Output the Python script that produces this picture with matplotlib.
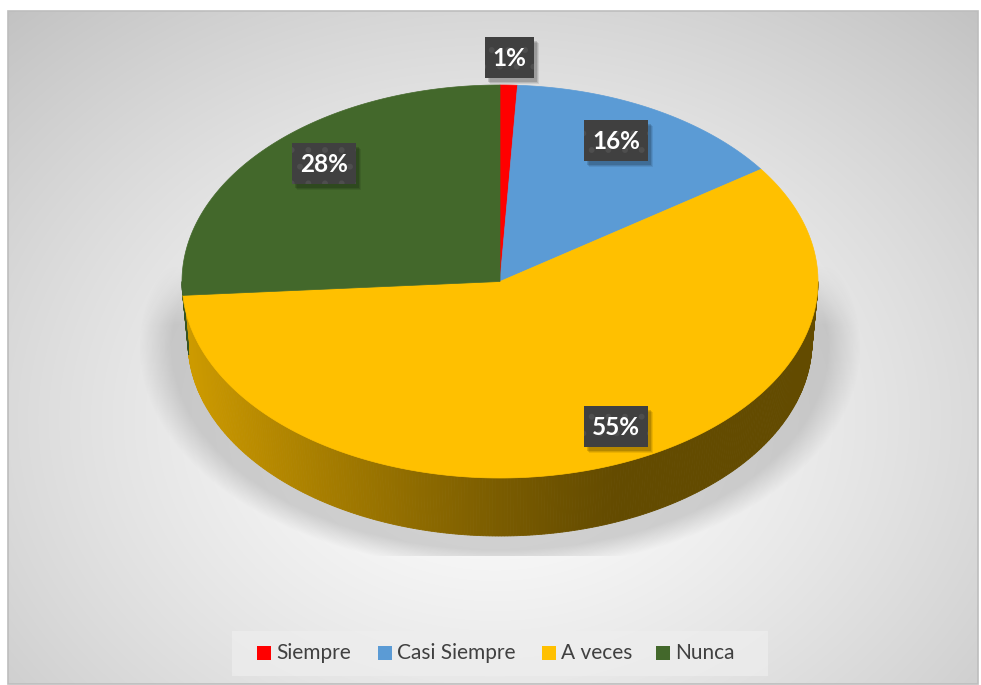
import numpy as np
import matplotlib.pyplot as plt
from matplotlib.patches import Polygon, Rectangle

# data
categories = ['Siempre', 'Casi Siempre', 'A veces', 'Nunca']
values = [1, 16, 55, 28]
colors = ['#FF0000', '#5B9BD5', '#FFC000', '#43682B']
pct_labels = ['1%', '16%', '55%', '28%']

W, H = 981, 685
plt.rcParams['font.family'] = ['Lato', 'DejaVu Sans']
fig = plt.figure(figsize=(W / 100, H / 100), dpi=100)
ax = fig.add_axes([0, 0, 1, 1])
ax.set_xlim(0, W)
ax.set_ylim(H, 0)
ax.axis('off')

# background: radial gray gradient inside the chart frame
x0, y0, x1, y1 = 8, 11, 978, 684
yy, xx = np.mgrid[y0:y1, x0:x1] + 0.5
d = np.hypot((xx - 495) / 560, (yy - 420) / 440) / 1.24
g = 1 - 0.23 * np.clip(d, 0, 1.1) ** 1.3
bg = np.dstack([g, g, g])
ax.imshow(bg, extent=(x0, x1, y1, y0), zorder=0, interpolation='bilinear')
ax.add_patch(Rectangle((x0, y0), x1 - x0, y1 - y0, fill=False,
                       edgecolor='#BDBDBD', lw=1.2, zorder=1))

# pie geometry (pixel space)
cx, cy, a, b, depth = 500, 281.5, 318, 196.5, 60
persp = 0.12


def tparam(theta):
    return theta - persp * np.sin(theta)


def top(t):
    return cx + a * np.sin(t), cy - b * np.cos(t)


def bot(t):
    return cx + (a - 6) * np.sin(t), cy + depth - (b - 2) * np.cos(t)


# soft shadow under the pie
sy, sx = np.mgrid[240:556, 140:870] + 0.5
r = np.hypot((sx - 500) / 328, (sy - 347) / 203)
s = np.clip(1 - (r - 1) / 0.1, 0, 1)
s *= np.clip((sy - 265) / 60, 0, 1)
shadow = np.zeros(sx.shape + (4,))
shadow[..., :3] = 0.55
shadow[..., 3] = 0.36 * s
ax.imshow(shadow, extent=(140, 870, 556, 240), zorder=2, interpolation='bilinear')

fracs = np.array(values, dtype=float) / sum(values)
edges = np.concatenate([[0], np.cumsum(fracs)]) * 2 * np.pi
t_edges = tparam(edges)


def side_factor(x):
    u = np.clip((620 - x) / 430, 0, 1)
    return 0.39 + 0.41 * u ** 1.2


# side walls (front half only, one continuous band)
t_side = np.linspace(np.pi / 2, 3 * np.pi / 2, 320)
for ta, tb in zip(t_side[:-1], t_side[1:]):
    i = min(np.searchsorted(t_edges, (ta + tb) / 2) - 1, len(colors) - 1)
    # tiny slivers at the very edge get the neighbouring front slice colour
    if t_edges[i + 1] - max(t_edges[i], np.pi / 2) < 0.12 and i > 0:
        i -= 1
    base = np.array(plt.matplotlib.colors.to_rgb(colors[i]))
    pa, pb = top(ta), top(tb)
    qa, qb = bot(ta), bot(tb)
    c = base * side_factor((pa[0] + pb[0]) / 2)
    ax.add_patch(Polygon([pa, pb, qb, qa], closed=True, facecolor=c,
                         edgecolor=c, lw=0.6, zorder=3))

# top face
for i, col in enumerate(colors):
    ts = np.linspace(t_edges[i], t_edges[i + 1], 200)
    pts = [(cx, cy)] + [top(t) for t in ts]
    ax.add_patch(Polygon(pts, closed=True, facecolor=col, edgecolor=col,
                         lw=0.5, zorder=4))

# data labels
plt.rcParams['hatch.linewidth'] = 1.8
label_pos = [(509.5, 57.5), (616, 140), (616, 426), (324, 163)]
for (lx, ly), txt in zip(label_pos, pct_labels):
    w = 49 if len(txt) == 2 else 64
    h = 41
    for k, al in [(6, 0.08), (5, 0.1), (4, 0.14)]:
        ax.add_patch(Rectangle((lx - w / 2 + k - 1, ly - h / 2 + k), w, h,
                               facecolor='black', alpha=al, lw=0, zorder=5))
    ax.add_patch(Rectangle((lx - w / 2, ly - h / 2), w, h, facecolor='#404040',
                           edgecolor='#4E4E4E', hatch='.', lw=0, zorder=6))
    ax.text(lx, ly + 1, txt, color='white', fontsize=17.5, fontweight='bold',
            ha='center', va='center', zorder=7)

# legend
ax.add_patch(Rectangle((232, 631), 536, 45, facecolor='#EEEEEE', alpha=0.7,
                       lw=0, zorder=5))
leg_x = [257, 378, 542, 656]
for lx, cat, col in zip(leg_x, categories, colors):
    ax.add_patch(Rectangle((lx, 646), 14, 14, facecolor=col, lw=0, zorder=6))
    ax.text(lx + 19, 653, cat, color='#404040', fontsize=15,
            ha='left', va='center', zorder=6)

fig.savefig('out.png', dpi=100, facecolor='white')
